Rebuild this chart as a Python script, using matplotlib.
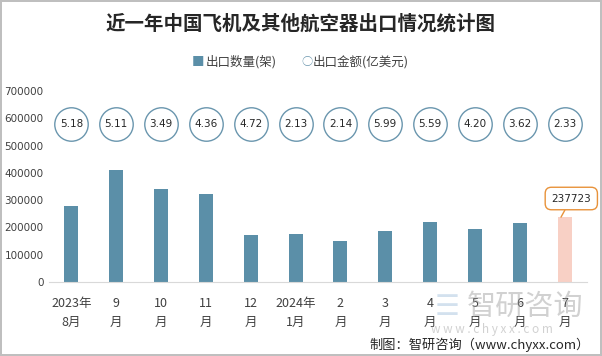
import matplotlib
matplotlib.use('Agg')
import matplotlib.pyplot as plt

plt.rcParams['font.family'] = ['Noto Sans CJK SC', 'DejaVu Sans']

# data
months = ['2023年\n8月', '9\n月', '10\n月', '11\n月', '12\n月', '2024年\n1月',
          '2\n月', '3\n月', '4\n月', '5\n月', '6\n月', '7\n月']
qty = [279000, 412000, 342000, 323000, 173000, 176000,
       151000, 187000, 221000, 195000, 217000, 237723]
amount = [5.18, 5.11, 3.49, 4.36, 4.72, 2.13, 2.14, 5.99, 5.59, 4.20, 3.62, 2.33]
yticks = [0, 100000, 200000, 300000, 400000, 500000, 600000, 700000]

bar_c = '#5B8FA8'
hi_c = '#F8D0C5'
txt_c = '#404040'

fig = plt.figure(figsize=(6.02, 3.56), dpi=100)
fig.patch.set_edgecolor('#BFBFBF')
fig.patch.set_linewidth(1.5)
ax = fig.add_axes([49/602, 1-282/356, 538/602, 191/356])

x = range(len(months))
colors = [bar_c]*(len(qty)-1) + [hi_c]
ax.bar(x, qty, width=0.31, color=colors, zorder=2)

# amount circles drawn along a fixed row
row = [580000]*len(amount)
ax.scatter(x, row, s=580, facecolor='white', edgecolor='#6A96AE', linewidth=1, zorder=3)
for i, v in enumerate(amount):
    ax.text(i, row[i], f'{v:.2f}', ha='center', va='center', fontsize=7.5,
            color='#262626', family=['DejaVu Sans'], zorder=4)

# callout for latest bar
ax.annotate(f'{qty[-1]}', xy=(10.92, qty[-1]), xytext=(11.15, 306000),
            ha='center', va='center', fontsize=7.5, color='#262626', family=['DejaVu Sans'],
            bbox=dict(boxstyle='round,pad=0.6', fc='white', ec='#E8923A', lw=1),
            arrowprops=dict(arrowstyle='-', color='#E8923A', lw=1, shrinkA=0, shrinkB=0),
            zorder=5, annotation_clip=False)

ax.set_xlim(-0.5, 11.5)
ax.set_ylim(0, 700000)
ax.set_yticks(yticks)
ax.set_yticklabels([str(t) for t in yticks], fontsize=7.5, color=txt_c, family=['DejaVu Sans'])
ax.set_xticks(list(x))
ax.set_xticklabels(months, fontsize=9, color=txt_c, linespacing=1.55)
ax.tick_params(axis='x', length=0, pad=11)
ax.tick_params(axis='y', length=0, pad=4)
for s in ['top', 'right', 'left']:
    ax.spines[s].set_visible(False)
ax.spines['bottom'].set_color('#D9D9D9')

fig.text(0.5, 1-24/356, '近一年中国飞机及其他航空器出口情况统计图', ha='center', va='center',
         fontsize=14, fontweight='bold', color='#262626')

# legend
fig.text(198/602, 1-62/356, '■', ha='center', va='center', fontsize=9, color=bar_c)
fig.text(206/602, 1-62/356, '出口数量(架)', ha='left', va='center', fontsize=9, color=txt_c)
fig.text(307/602, 1-62/356, '○', ha='center', va='center', fontsize=8, color='#6A96AE')
fig.text(313/602, 1-62/356, '出口金额(亿美元)', ha='left', va='center', fontsize=9, color=txt_c)

# watermark
fig.text(447/602, 1-307/356, '☰', ha='center', va='center', fontsize=20,
         color='#A9C4DE', alpha=0.5, family=['DejaVu Sans'])
fig.text(467/602, 1-307/356, '智研咨询', ha='left', va='center', fontsize=21,
         color='#9A9A9A', alpha=0.45)
fig.text(431/602, 1-329/356, 'w w w . c h y x x . c o m', ha='left', va='center', fontsize=8.5,
         color='#9A9A9A', alpha=0.45)
fig.text(590/602, 1-345/356, '制图：智研咨询（www.chyxx.com）', ha='right', va='center',
         fontsize=9.5, color='#262626')

fig.savefig('out.png', dpi=100)
